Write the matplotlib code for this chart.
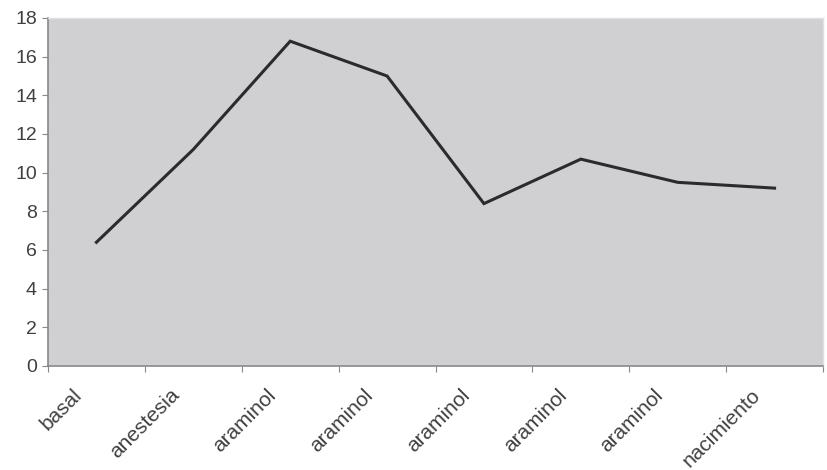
import matplotlib
matplotlib.use("Agg")
import matplotlib.pyplot as plt
import matplotlib.transforms as mtransforms
import numpy as np

categories = ["basal", "anestesia", "araminol", "araminol", "araminol",
              "araminol", "araminol", "nacimiento"]
values = [6.4, 11.2, 16.8, 15.0, 8.4, 10.7, 9.5, 9.2]
yticks = [0, 2, 4, 6, 8, 10, 12, 14, 16, 18]

plt.rcParams['font.family'] = ['Liberation Sans', 'DejaVu Sans']

fig = plt.figure(figsize=(8.27, 4.70), dpi=100)
ax = fig.add_axes([48/827, 1-366/470, (823-48)/827, (366-18)/470])
ax.set_facecolor('#d0d0d3')

x = np.arange(len(categories))
ax.plot(x, values, color='#2b2b2b', lw=2.2, solid_joinstyle='miter')

ax.set_xlim(-0.5, len(categories) - 0.5)
ax.set_ylim(0, 18)
ax.set_yticks(yticks)
ax.set_yticklabels([str(v) for v in yticks], fontsize=14, color='#404040')

# boundary ticks
ax.set_xticks(np.arange(len(categories) + 1) - 0.5)
ax.set_xticklabels([])
ax.set_xticks(x, minor=True)
ax.set_xticklabels(categories, minor=True, rotation=45, ha='right', va='top',
                   rotation_mode='anchor', fontsize=15, color='#404040')
ax.tick_params(axis='x', which='minor', length=0, pad=14)
ax.tick_params(axis='x', which='major', length=4, color='#888888')
ax.tick_params(axis='y', length=4, color='#888888', pad=4)

offset = mtransforms.ScaledTranslation(-24/100, 0, fig.dpi_scale_trans)
for lbl in ax.xaxis.get_minorticklabels():
    lbl.set_transform(lbl.get_transform() + offset)

for s in ['left', 'bottom']:
    ax.spines[s].set_color('#888888')
    ax.spines[s].set_linewidth(1.2)
for s in ['top', 'right']:
    ax.spines[s].set_color('#e0e0e0')
    ax.spines[s].set_linewidth(1.0)

fig.savefig('out.png', dpi=100, facecolor='white')
